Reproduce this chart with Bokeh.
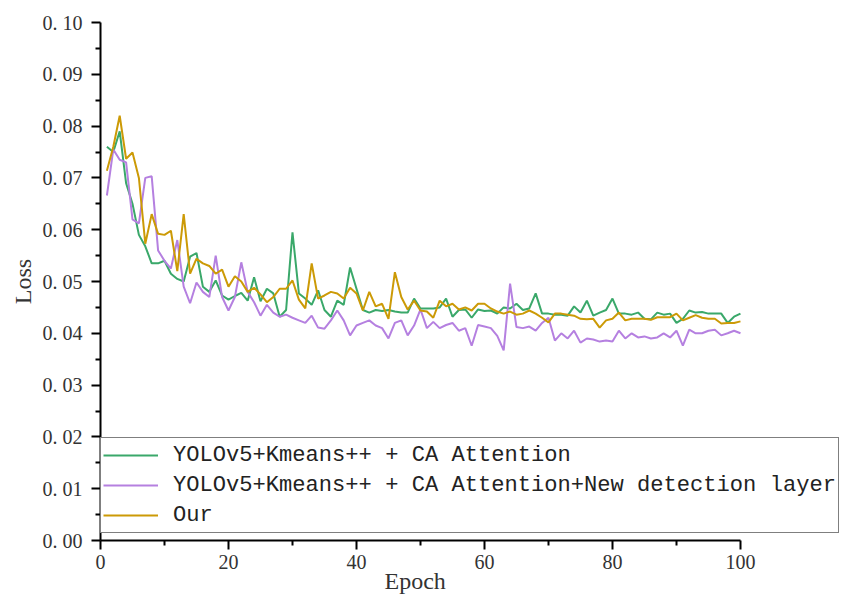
from bokeh.plotting import figure
from bokeh.models import (FixedTicker, CustomJSTickFormatter, Legend, LegendItem,
                          Range1d, Title)
from bokeh.embed import file_html
from bokeh.resources import INLINE

epochs = list(range(1, 101))

ca_attention = [
    0.0760, 0.0750, 0.0790, 0.0690, 0.0650, 0.0590, 0.0568, 0.0535, 0.0535, 0.0540,
    0.0515, 0.0505, 0.0500, 0.0548, 0.0555, 0.0490, 0.0480, 0.0502, 0.0473, 0.0465,
    0.0472, 0.0478, 0.0463, 0.0508, 0.0462, 0.0486, 0.0477, 0.0432, 0.0445, 0.0595,
    0.0477, 0.0467, 0.0455, 0.0483, 0.0445, 0.0432, 0.0463, 0.0455, 0.0527, 0.0486,
    0.0445, 0.0440, 0.0445, 0.0443, 0.0445, 0.0442, 0.0440, 0.0440, 0.0467, 0.0448,
    0.0448, 0.0448, 0.0450, 0.0467, 0.0432, 0.0445, 0.0446, 0.0430, 0.0446, 0.0443,
    0.0444, 0.0438, 0.0450, 0.0448, 0.0457, 0.0445, 0.0448, 0.0477, 0.0438, 0.0438,
    0.0436, 0.0436, 0.0434, 0.0452, 0.0440, 0.0463, 0.0434, 0.0440, 0.0445, 0.0467,
    0.0438, 0.0438, 0.0436, 0.0440, 0.0428, 0.0427, 0.0440, 0.0436, 0.0438, 0.0420,
    0.0428, 0.0444, 0.0440, 0.0441, 0.0438, 0.0438, 0.0438, 0.0420, 0.0432, 0.0438,
]

new_detection_layer = [
    0.0666, 0.0755, 0.0735, 0.0730, 0.0620, 0.0612, 0.0700, 0.0703, 0.0560, 0.0540,
    0.0525, 0.0580, 0.0490, 0.0458, 0.0498, 0.0480, 0.0470, 0.0550, 0.0470, 0.0444,
    0.0470, 0.0537, 0.0480, 0.0460, 0.0434, 0.0455, 0.0440, 0.0432, 0.0436, 0.0430,
    0.0425, 0.0420, 0.0434, 0.0411, 0.0409, 0.0425, 0.0444, 0.0425, 0.0396, 0.0415,
    0.0420, 0.0425, 0.0415, 0.0410, 0.0390, 0.0420, 0.0425, 0.0396, 0.0415, 0.0446,
    0.0410, 0.0422, 0.0410, 0.0416, 0.0420, 0.0405, 0.0410, 0.0376, 0.0416, 0.0413,
    0.0410, 0.0395, 0.0367, 0.0496, 0.0412, 0.0410, 0.0413, 0.0405, 0.0420, 0.0430,
    0.0386, 0.0400, 0.0390, 0.0405, 0.0382, 0.0390, 0.0388, 0.0384, 0.0386, 0.0384,
    0.0405, 0.0390, 0.0400, 0.0392, 0.0394, 0.0390, 0.0392, 0.0400, 0.0392, 0.0405,
    0.0376, 0.0407, 0.0400, 0.0400, 0.0405, 0.0407, 0.0396, 0.0400, 0.0405, 0.0400,
]

ours = [
    0.0714, 0.0760, 0.0820, 0.0737, 0.0749, 0.0700, 0.0573, 0.0630, 0.0592, 0.0590,
    0.0598, 0.0520, 0.0630, 0.0515, 0.0544, 0.0535, 0.0530, 0.0515, 0.0523, 0.0490,
    0.0510, 0.0500, 0.0480, 0.0488, 0.0475, 0.0460, 0.0470, 0.0486, 0.0486, 0.0502,
    0.0465, 0.0448, 0.0535, 0.0467, 0.0473, 0.0480, 0.0477, 0.0467, 0.0488, 0.0477,
    0.0444, 0.0480, 0.0452, 0.0457, 0.0428, 0.0518, 0.0470, 0.0446, 0.0463, 0.0444,
    0.0442, 0.0430, 0.0463, 0.0452, 0.0457, 0.0446, 0.0450, 0.0444, 0.0457, 0.0457,
    0.0448, 0.0442, 0.0438, 0.0442, 0.0436, 0.0438, 0.0444, 0.0438, 0.0430, 0.0421,
    0.0438, 0.0438, 0.0436, 0.0434, 0.0428, 0.0427, 0.0428, 0.0411, 0.0425, 0.0428,
    0.0440, 0.0425, 0.0428, 0.0428, 0.0428, 0.0426, 0.0431, 0.0431, 0.0431, 0.0438,
    0.0425, 0.0430, 0.0435, 0.0430, 0.0428, 0.0428, 0.0419, 0.0420, 0.0420, 0.0423,
]

series_names = [
    "YOLOv5+Kmeans++ + CA Attention",
    "YOLOv5+Kmeans++ + CA Attention+New detection layer",
    "Our",
]
series_colors = ["#3aa86a", "#b580e0", "#cc9a06"]

x_ticks = [0, 20, 40, 60, 80, 100]
x_minor_ticks = [10, 30, 50, 70, 90]
y_ticks = [0.00, 0.01, 0.02, 0.03, 0.04, 0.05, 0.06, 0.07, 0.08, 0.09, 0.10]
y_minor_ticks = [0.005, 0.015, 0.025, 0.035, 0.045, 0.055, 0.065, 0.075, 0.085, 0.095]
x_title = "Epoch"
y_title = "Loss"

p = figure(width=843, height=595, output_backend="svg", toolbar_location=None,
           x_range=Range1d(0, 116.1), y_range=Range1d(0, 0.10),
           min_border_left=100, min_border_right=0, min_border_top=22,
           min_border_bottom=55)
p.outline_line_color = None
p.background_fill_color = "white"
p.border_fill_color = "white"
p.xgrid.visible = False
p.ygrid.visible = False

renderers = []
for data, col in zip([ca_attention, new_detection_layer, ours], series_colors):
    r = p.line(epochs, data, line_color=col, line_width=2)
    renderers.append(r)

tick_font = "Liberation Serif"
for ax in (p.xaxis[0], p.yaxis[0]):
    ax.axis_line_color = "black"
    ax.axis_line_width = 2
    ax.major_tick_line_color = "black"
    ax.major_tick_line_width = 2
    ax.minor_tick_line_color = "black"
    ax.minor_tick_line_width = 2
    ax.major_tick_out = 9
    ax.major_tick_in = 0
    ax.minor_tick_out = 5
    ax.minor_tick_in = 0
    ax.major_label_text_font = tick_font
    ax.major_label_text_font_size = "20px"
    ax.major_label_text_color = "#333333"
    ax.axis_label_text_font = tick_font
    ax.axis_label_text_font_size = "24px"
    ax.axis_label_text_font_style = "normal"
    ax.axis_label_text_color = "#333333"

p.xaxis.ticker = FixedTicker(ticks=x_ticks, minor_ticks=x_minor_ticks)
p.yaxis.ticker = FixedTicker(ticks=y_ticks, minor_ticks=y_minor_ticks)
p.xaxis.bounds = (0, 100)
p.yaxis.bounds = (0, 0.10)
p.yaxis.formatter = CustomJSTickFormatter(code="return tick.toFixed(2).replace('.', '. ');")
p.yaxis.axis_label = y_title
p.xaxis.major_label_standoff = 5
p.yaxis.major_label_standoff = 9
p.yaxis.axis_label_standoff = 4

# x-axis title sits under the middle of the 0..100 axis line (not the frame)
p.add_layout(Title(text=x_title, align="left", offset=284, standoff=-12,
                   text_font=tick_font, text_font_size="24px",
                   text_font_style="normal", text_color="#333333"), "below")

legend = Legend(
    items=[LegendItem(label=n, renderers=[r]) for n, r in zip(series_names, renderers)],
    location=(0, 7), margin=0, padding=2, spacing=0,
    glyph_width=55, glyph_height=30, label_height=30, label_standoff=15,
    label_text_font="Liberation Mono", label_text_font_size="22.1px",
    label_text_color="#222222",
    border_line_color="black", border_line_width=1,
    background_fill_color="white", background_fill_alpha=1.0,
)
p.add_layout(legend)

open("out.html", "w").write(file_html(p, INLINE))
